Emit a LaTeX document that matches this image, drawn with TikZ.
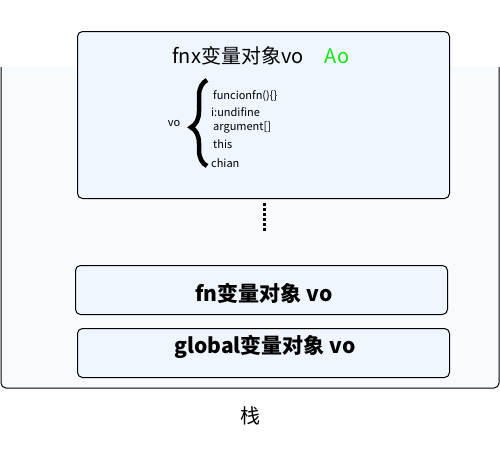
\documentclass[tikz,border=0pt]{standalone}
\usepackage{fontspec}
\setmainfont{Noto Sans CJK SC}
\usetikzlibrary{decorations.pathreplacing}
\definecolor{boxfill}{RGB}{239,246,255}
\definecolor{outerfill}{RGB}{248,251,253}
\definecolor{aogreen}{RGB}{20,230,20}
\tikzset{
  framebox/.style={draw=black, line width=1pt, fill=boxfill, rounded corners=5pt, inner sep=0pt},
  itemtext/.style={anchor=west, font=\fontsize{11}{12}\selectfont, inner sep=0pt},
  bigtext/.style={font=\fontsize{21}{23}\selectfont\bfseries, inner sep=0pt}
}
\begin{document}
\begin{tikzpicture}[x=1pt,y=-1pt]
\useasboundingbox (0,0) rectangle (500,469);
% outer stack area
\fill[outerfill, rounded corners=5pt] (1,67) -- (1,388) -- (499,388) -- (499,67) -- cycle;
\draw[line width=1pt, rounded corners=5pt] (1,67) -- (1,388) -- (499,388) -- (499,67);
% boxes
\node[framebox, anchor=north west, minimum width=372pt, minimum height=167pt] (fnx) at (77,31) {};
\node[framebox, anchor=north west, minimum width=372pt, minimum height=49pt] (fn) at (75,265) {};
\node[framebox, anchor=north west, minimum width=372pt, minimum height=49pt] (gl) at (77,328) {};
% title
\node[inner sep=0pt, font=\fontsize{20}{22}\selectfont] (title) at (238,56) {fnx变量对象vo};
\node[inner sep=0pt, font=\fontsize{20}{22}\selectfont, text=aogreen] (ao) at (337,56) {Ao};
% vo with brace
\node[inner sep=0pt, font=\fontsize{11}{12}\selectfont] (vo) at (174,124) {vo};
\coordinate (bt) at (207,80);
\coordinate (bb) at (207,166);
\draw[line width=4.5pt, decorate, decoration={brace, amplitude=16pt, aspect=0.55, mirror}] (bt) -- (bb);
\node[itemtext] (i1) at (213,96) {funcionfn()\{\}};
\node[itemtext] (i2) at (211,112) {i:undifine};
\node[itemtext] (i3) at (213,128) {argument[]};
\node[itemtext] (i4) at (213,144) {this};
\node[itemtext] (i5) at (211,163) {chian};
% dotted
\coordinate (d1) at (264,203);
\coordinate (d2) at (264,232);
\draw[line width=3pt, dash pattern=on 2.5pt off 2.5pt] (d1) -- (d2);
% lower boxes text
\node[bigtext] (fnt) at (264,293) {fn变量对象 vo};
\node[bigtext] (glt) at (265,347) {global变量对象 vo};
% stack label
\node[inner sep=0pt, font=\fontsize{20}{22}\selectfont] (stack) at (250,416) {栈};
\end{tikzpicture}
\end{document}
